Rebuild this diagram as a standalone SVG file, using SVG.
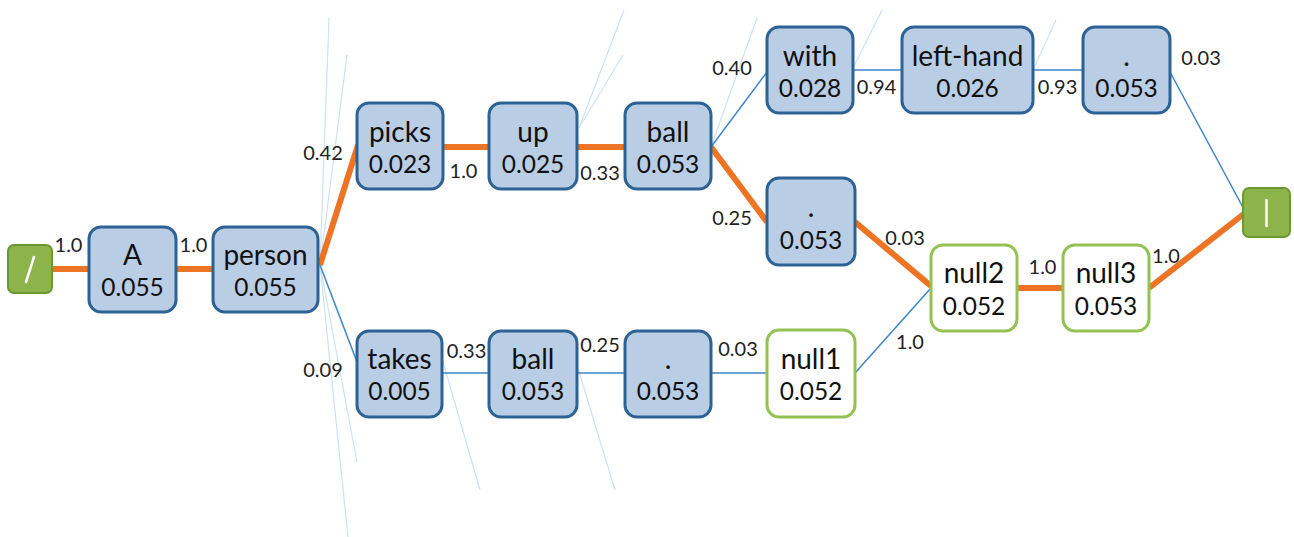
<svg xmlns="http://www.w3.org/2000/svg" width="1294" height="537" viewBox="0 0 1294 537">
<style>
.n{fill:#b9cde5;stroke:#2d6294;stroke-width:3}
.g{fill:#ffffff;stroke:#94c153;stroke-width:3}
.t{fill:#8db34b;stroke:#6b9834;stroke-width:2}
.w{font-family:Lato,"Liberation Sans",sans-serif;font-size:28px;fill:#111;text-anchor:middle}
.v{font-family:Lato,"Liberation Sans",sans-serif;font-size:24.5px;fill:#111;text-anchor:middle}
.l{font-family:Lato,"Liberation Sans",sans-serif;font-size:20px;fill:#222;text-anchor:middle}
.o{stroke:#ec7424;stroke-width:6;fill:none;stroke-linecap:butt}
.b{stroke:#3d85c6;stroke-width:1.5;fill:none}
.f{stroke:#cfe1f5;stroke-width:1.2;fill:none}
.gl{stroke:#ffffff;stroke-width:2.5;stroke-linecap:round}
</style>
<rect width="1294" height="537" fill="#ffffff"/>
<g id="faint">
<line class="f" x1="320" y1="265" x2="329" y2="18"/>
<line class="f" x1="320" y1="265" x2="347" y2="55"/>
<line class="f" x1="320" y1="265" x2="357" y2="462"/>
<line class="f" x1="320" y1="265" x2="348" y2="537"/>
<line class="f" x1="443" y1="362" x2="480" y2="490"/>
<line class="f" x1="577" y1="365" x2="615" y2="490"/>
<line class="f" x1="579" y1="128" x2="624" y2="10"/>
<line class="f" x1="579" y1="128" x2="623" y2="55"/>
<line class="f" x1="711" y1="147" x2="757" y2="18"/>
<line class="f" x1="853" y1="68" x2="882" y2="10"/>
<line class="f" x1="1033" y1="70" x2="1056" y2="20"/>
</g>
<g id="connectors">
<line class="o" x1="52" y1="269" x2="89" y2="269"/>
<line class="o" x1="176" y1="269" x2="213" y2="269"/>
<line class="o" x1="320" y1="265" x2="358" y2="145"/>
<line class="b" x1="320" y1="265" x2="357" y2="362"/>
<line class="o" x1="443" y1="147" x2="489" y2="147"/>
<line class="o" x1="577" y1="147" x2="625" y2="147"/>
<line class="b" x1="711" y1="147" x2="767" y2="72"/>
<line class="o" x1="711" y1="147" x2="767" y2="222"/>
<line class="b" x1="853" y1="70" x2="902" y2="70"/>
<line class="b" x1="1033" y1="70" x2="1083" y2="70"/>
<line class="b" x1="1170" y1="72" x2="1246" y2="213"/>
<line class="o" x1="855" y1="222" x2="931" y2="286"/>
<line class="b" x1="855" y1="373" x2="931" y2="288"/>
<line class="o" x1="1017" y1="288" x2="1063" y2="288"/>
<line class="o" x1="1149" y1="288" x2="1245" y2="213"/>
<line class="b" x1="442" y1="373" x2="489" y2="373"/>
<line class="b" x1="577" y1="373" x2="625" y2="373"/>
<line class="b" x1="711" y1="373" x2="767" y2="373"/>
<g id="edge-labels">
<text class="l" x="68.5" y="252">1.0</text>
<text class="l" x="193.5" y="252">1.0</text>
<text class="l" x="323" y="160">0.42</text>
<text class="l" x="323" y="377">0.09</text>
<text class="l" x="463.5" y="178">1.0</text>
<text class="l" x="600" y="180">0.33</text>
<text class="l" x="466.5" y="358">0.33</text>
<text class="l" x="600" y="352">0.25</text>
<text class="l" x="738" y="356">0.03</text>
<text class="l" x="732" y="75">0.40</text>
<text class="l" x="732" y="225">0.25</text>
<text class="l" x="876.5" y="94">0.94</text>
<text class="l" x="1057.5" y="94">0.93</text>
<text class="l" x="1201" y="65">0.03</text>
<text class="l" x="905" y="245">0.03</text>
<text class="l" x="910" y="349">1.0</text>
<text class="l" x="1042.5" y="274">1.0</text>
<text class="l" x="1166" y="263">1.0</text>
</g>
</g>
<g id="start"><rect class="t" x="8" y="245" width="44" height="48" rx="6"/><line class="gl" x1="26" y1="282" x2="34" y2="257"/></g>
<g id="end"><rect class="t" x="1243" y="188" width="47" height="49" rx="6"/><line class="gl" x1="1266.5" y1="200" x2="1266.5" y2="226"/></g>
<g id="node-A"><rect class="n" x="89" y="227" width="87" height="85" rx="12"/><text class="w" x="132.5" y="265">A</text><text class="v" x="132.5" y="296">0.055</text></g>
<g id="node-person"><rect class="n" x="213" y="227" width="105" height="85" rx="12"/><text class="w" x="265.5" y="265">person</text><text class="v" x="265.5" y="296">0.055</text></g>
<g id="node-picks"><rect class="n" x="357" y="103" width="86" height="86" rx="12"/><text class="w" x="400" y="142">picks</text><text class="v" x="400" y="173">0.023</text></g>
<g id="node-up"><rect class="n" x="489" y="103" width="88" height="86" rx="12"/><text class="w" x="533" y="142">up</text><text class="v" x="533" y="173">0.025</text></g>
<g id="node-ball1"><rect class="n" x="625" y="103" width="86" height="86" rx="12"/><text class="w" x="668" y="142">ball</text><text class="v" x="668" y="173">0.053</text></g>
<g id="node-with"><rect class="n" x="767" y="27" width="86" height="86" rx="12"/><text class="w" x="810" y="66">with</text><text class="v" x="810" y="97">0.028</text></g>
<g id="node-lefthand"><rect class="n" x="902" y="27" width="131" height="86" rx="12"/><text class="w" x="967.5" y="66">left-hand</text><text class="v" x="967.5" y="97">0.026</text></g>
<g id="node-dot1"><rect class="n" x="1083" y="27" width="87" height="86" rx="12"/><text class="w" x="1126.5" y="66">.</text><text class="v" x="1126.5" y="97">0.053</text></g>
<g id="node-dot2"><rect class="n" x="767" y="178" width="88" height="87" rx="12"/><text class="w" x="811" y="217">.</text><text class="v" x="811" y="249">0.053</text></g>
<g id="node-takes"><rect class="n" x="357" y="331" width="85" height="86" rx="12"/><text class="w" x="399.5" y="369">takes</text><text class="v" x="399.5" y="400">0.005</text></g>
<g id="node-ball2"><rect class="n" x="489" y="331" width="88" height="86" rx="12"/><text class="w" x="533" y="369">ball</text><text class="v" x="533" y="400">0.053</text></g>
<g id="node-dot3"><rect class="n" x="625" y="331" width="86" height="86" rx="12"/><text class="w" x="668" y="369">.</text><text class="v" x="668" y="400">0.053</text></g>
<g id="node-null1"><rect class="g" x="767" y="330" width="88" height="87" rx="12"/><text class="w" x="811" y="369">null1</text><text class="v" x="811" y="400">0.052</text></g>
<g id="node-null2"><rect class="g" x="931" y="245" width="86" height="86" rx="12"/><text class="w" x="974" y="283">null2</text><text class="v" x="974" y="315">0.052</text></g>
<g id="node-null3"><rect class="g" x="1063" y="245" width="86" height="86" rx="12"/><text class="w" x="1106" y="283">null3</text><text class="v" x="1106" y="315">0.053</text></g>
</svg>
